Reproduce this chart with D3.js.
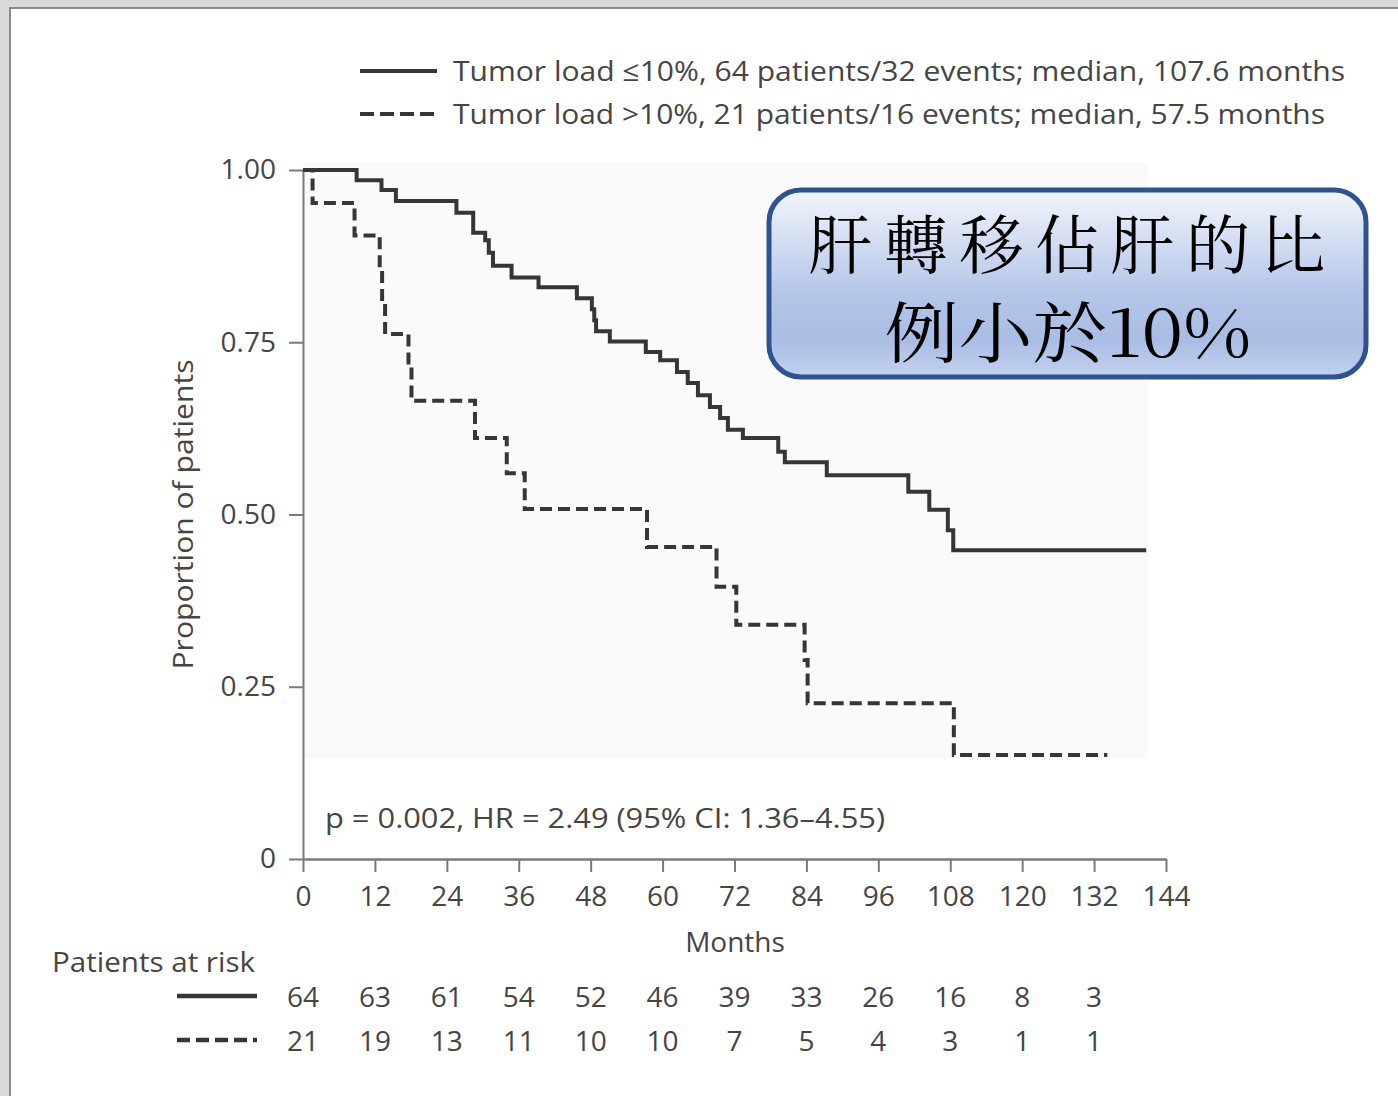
<!DOCTYPE html>
<html><head><meta charset="utf-8">
<script src="https://cdn.jsdelivr.net/npm/d3@7"></script>
<style>
html,body{margin:0;padding:0;background:#fff;}
svg{display:block;}
</style></head>
<body>
<svg id="c" width="1398" height="1096"></svg>
<script>
// ---------- data ----------
const lowTimes  = [0, 8.95, 13.1, 15.5, 25.6, 28.4, 30.4, 31.0, 31.7, 34.8, 39.3, 45.7, 48.2, 48.6, 48.9, 51.2, 57.2, 59.6, 62.4, 64.2, 65.9, 67.9, 69.6, 70.9, 73.4, 79.3, 80.4, 87.4, 101.0, 104.5, 107.6, 108.5, 140.7];
const lowSurv   = [1.0, 0.985, 0.971, 0.955, 0.938, 0.909, 0.898, 0.880, 0.861, 0.844, 0.830, 0.814, 0.798, 0.782, 0.766, 0.751, 0.736, 0.724, 0.707, 0.691, 0.673, 0.656, 0.640, 0.623, 0.611, 0.591, 0.576, 0.557, 0.533, 0.507, 0.477, 0.448, 0.448];
const highTimes = [0, 1.6, 8.6, 12.8, 13.2, 13.7, 17.6, 18.1, 28.7, 34.0, 37.0, 57.4, 69.0, 72.3, 83.7, 84.2, 108.6, 134.2];
const highSurv  = [1.0, 0.952, 0.905, 0.857, 0.810, 0.762, 0.714, 0.665, 0.611, 0.560, 0.508, 0.453, 0.395, 0.340, 0.289, 0.226, 0.151, 0.151];
const xTicks = [0, 12, 24, 36, 48, 60, 72, 84, 96, 108, 120, 132, 144];
const yTicks = [0, 0.25, 0.5, 0.75, 1.0];
const yTickLabels = ["0", "0.25", "0.50", "0.75", "1.00"];
const riskTimes = [0, 12, 24, 36, 48, 60, 72, 84, 96, 108, 120, 132];
const riskLow  = [64, 63, 61, 54, 52, 46, 39, 33, 26, 16, 8, 3];
const riskHigh = [21, 19, 13, 11, 10, 10, 7, 5, 4, 3, 1, 1];
const legendLabels = ["Tumor load \u226410%, 64 patients/32 events; median, 107.6 months",
                      "Tumor load >10%, 21 patients/16 events; median, 57.5 months"];
const statText = "p = 0.002, HR = 2.49 (95% CI: 1.36\u20134.55)";
const boxLines = ["肝轉移佔肝的比", "例小於10%"];

// ---------- drawing ----------
const svg = d3.select("#c");
const FONT = "'Open Sans', 'Noto Sans', sans-serif";
const TXT = "#454545";
const LINE = "#363636";

// frame
svg.append("rect").attr("x",0).attr("y",0).attr("width",1398).attr("height",1096).attr("fill","#d9d9d9");
svg.append("rect").attr("x",10).attr("y",8).attr("width",1390).attr("height",1090)
   .attr("fill","#fff").attr("stroke","#8a8a8a").attr("stroke-width",2);

const x = d3.scaleLinear().domain([0,144]).range([303,1166]);
const y = d3.scaleLinear().domain([0,1]).range([859,170]);

// faint plot background
svg.append("rect").attr("x",x(0)).attr("y",y(1.01)).attr("width",x(141)-x(0)).attr("height",y(0.145)-y(1.01)).attr("fill","#fafafa");

// y axis
const yAxis = svg.append("g").attr("transform",`translate(${x(0)},0)`)
  .call(d3.axisLeft(y).tickValues(yTicks).tickSize(14).tickSizeOuter(0).tickPadding(13)
        .tickFormat((d,i)=>yTickLabels[i]));
yAxis.select(".domain").attr("stroke","#7a7a7a").attr("stroke-width",2);
yAxis.selectAll(".tick line").attr("stroke","#7a7a7a").attr("stroke-width",2);
yAxis.selectAll("text").attr("font-family",FONT).attr("font-size",28).attr("fill",TXT);

// x axis
const xAxis = svg.append("g").attr("transform",`translate(0,${y(0)})`)
  .call(d3.axisBottom(x).tickValues(xTicks).tickSize(13).tickSizeOuter(0).tickPadding(14)
        .tickFormat(d3.format("d")));
xAxis.select(".domain").attr("stroke","#7a7a7a").attr("stroke-width",2.5);
xAxis.selectAll(".tick line").attr("stroke","#7a7a7a").attr("stroke-width",2);
xAxis.selectAll("text").attr("font-family",FONT).attr("font-size",28).attr("fill",TXT);

// axis titles
svg.append("text").attr("transform",`translate(193,${(y(0)+y(1))/2}) rotate(-90)`)
  .attr("text-anchor","middle").attr("font-family",FONT).attr("font-size",28).attr("fill",TXT)
  .attr("textLength",310).attr("lengthAdjust","spacingAndGlyphs")
  .text("Proportion of patients");
svg.append("text").attr("x",735).attr("y",952).attr("text-anchor","middle")
  .attr("font-family",FONT).attr("font-size",28).attr("fill",TXT).text("Months");

// curves
const line = d3.line().x(d=>x(d[0])).y(d=>y(d[1])).curve(d3.curveStepAfter);
svg.append("path").datum(lowTimes.map((t,i)=>[t,lowSurv[i]]))
  .attr("d",line).attr("fill","none").attr("stroke",LINE).attr("stroke-width",4);
svg.append("path").datum(highTimes.map((t,i)=>[t,highSurv[i]]))
  .attr("d",line).attr("fill","none").attr("stroke",LINE).attr("stroke-width",4)
  .attr("stroke-dasharray","12,6");

// legend
const leg = svg.append("g");
legendLabels.forEach((lab,i)=>{
  const yy = 71 + i*43;
  leg.append("line").attr("x1",360).attr("x2",437).attr("y1",yy).attr("y2",yy)
    .attr("stroke",LINE).attr("stroke-width",4).attr("stroke-dasharray", i===1 ? "14,6" : null);
  leg.append("text").attr("x",453).attr("y",yy+10).attr("font-family",FONT).attr("font-size",28)
    .attr("fill",TXT).attr("textLength", i===0 ? 892 : 872).attr("lengthAdjust","spacingAndGlyphs").text(lab);
});

// stats
svg.append("text").attr("x",325).attr("y",828).attr("font-family",FONT).attr("font-size",28)
  .attr("fill",TXT).attr("textLength",560).attr("lengthAdjust","spacingAndGlyphs").text(statText);

// patients at risk
svg.append("text").attr("x",52).attr("y",972).attr("font-family",FONT).attr("font-size",28)
  .attr("fill",TXT).attr("textLength",203).attr("lengthAdjust","spacingAndGlyphs").text("Patients at risk");
svg.append("line").attr("x1",177).attr("x2",257).attr("y1",996).attr("y2",996)
  .attr("stroke",LINE).attr("stroke-width",4.5);
svg.append("line").attr("x1",177).attr("x2",257).attr("y1",1040).attr("y2",1040)
  .attr("stroke",LINE).attr("stroke-width",4.5).attr("stroke-dasharray","13,6");
[[riskLow,1007],[riskHigh,1051]].forEach(([arr,yy])=>{
  svg.append("g").selectAll("text").data(arr).join("text")
    .attr("x",(d,i)=>x(riskTimes[i])).attr("y",yy).attr("text-anchor","middle")
    .attr("font-family",FONT).attr("font-size",28).attr("fill",TXT).text(d=>d);
});

// annotation box
const defs = svg.append("defs");
const g = defs.append("linearGradient").attr("id","bg").attr("x1",0).attr("y1",0).attr("x2",0).attr("y2",1);
g.append("stop").attr("offset","0%").attr("stop-color","#f2f5fc");
g.append("stop").attr("offset","55%").attr("stop-color","#b4c6e8");
g.append("stop").attr("offset","80%").attr("stop-color","#a9bde4");
g.append("stop").attr("offset","100%").attr("stop-color","#c2d1ee");
svg.append("rect").attr("x",769).attr("y",190).attr("width",597).attr("height",187).attr("rx",32)
  .attr("fill","url(#bg)").attr("stroke","#2f5291").attr("stroke-width",5);
const CJK = "'Noto Serif CJK TC','Noto Sans CJK TC','Noto Sans CJK SC',serif";
svg.append("text").attr("x",1067).attr("y",268).attr("text-anchor","middle")
  .attr("font-family",CJK).attr("font-size",64).attr("fill","#000")
  .attr("textLength",517).attr("lengthAdjust","spacing").text(boxLines[0]);
svg.append("text").attr("x",1068).attr("y",357).attr("text-anchor","middle")
  .attr("font-family",CJK).attr("font-size",66).attr("fill","#000")
  .attr("textLength",367).attr("lengthAdjust","spacingAndGlyphs").text(boxLines[1]);
</script>
</body></html>
